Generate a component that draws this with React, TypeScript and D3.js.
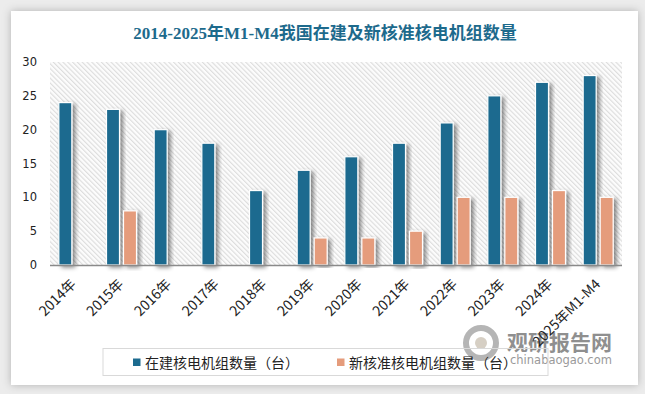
import React from "react";
import { scaleBand, scaleLinear } from "d3";

const categories = [
  "2014年", "2015年", "2016年", "2017年", "2018年", "2019年",
  "2020年", "2021年", "2022年", "2023年", "2024年", "2025年M1-M4",
];
const underConstruction = [24, 23, 20, 18, 11, 14, 16, 18, 21, 25, 27, 28];
const newlyApproved = [0, 8, 0, 0, 0, 4, 4, 5, 10, 10, 11, 10];
const yTicks = [0, 5, 10, 15, 20, 25, 30];
const seriesNames = ["在建核电机组数量（台）", "新核准核电机组数量（台）"];

const W = 645;
const H = 394;
const BLUE = "#1c6b8f";
const ORANGE = "#e59c7c";

const App = () => {
  // plot area
  const left = 50, right = 622, top = 62, bottom = 265;

  const x = scaleBand<string>().domain(categories).range([left, right]).padding(0);
  const bw = x.bandwidth();
  const inner = scaleBand<string>()
    .domain(["a", "b"])
    .range([bw / 2 - 15, bw / 2 + 15])
    .paddingInner(4 / 17)
    .paddingOuter(0);
  const y = scaleLinear().domain([0, 30]).range([bottom, top]);

  const cjk = "'Noto Sans CJK SC', 'DejaVu Sans', sans-serif";

  return (
    <div style={{ position: "fixed", left: 0, top: 0 }}>
      <svg width={W} height={H} style={{ display: "block" }}>
        <defs>
          <pattern id="hatch" width="3.4" height="3.4" patternUnits="userSpaceOnUse" patternTransform="rotate(-45)">
            <rect width="3.4" height="3.4" fill="#fcfcfc" />
            <line x1="0.6" y1="0" x2="0.6" y2="3.4" stroke="#d9d9d9" strokeWidth="1" />
          </pattern>
          <filter id="cardShadow" x="-5%" y="-5%" width="110%" height="110%">
            <feDropShadow dx="0" dy="0" stdDeviation="4" floodColor="#000" floodOpacity="0.25" />
          </filter>
          <filter id="barShadow" x="-50%" y="-10%" width="200%" height="120%">
            <feDropShadow dx="3" dy="2" stdDeviation="2" floodColor="#000" floodOpacity="0.45" />
          </filter>
        </defs>

        <rect width={W} height={H} fill="#ececec" />
        <rect x={11} y={11} width={627} height={374} fill="#ffffff" filter="url(#cardShadow)" />

        <text
          x={325}
          y={39}
          textAnchor="middle"
          fontFamily="'Liberation Serif', 'Noto Sans CJK SC', serif"
          fontWeight="bold"
          fontSize={17}
          fill="#1d6a8c"
        >
          2014-2025年M1-M4我国在建及新核准核电机组数量
        </text>

        <rect x={left} y={top} width={right - left} height={bottom - top} fill="url(#hatch)" />

        {yTicks.map((t) => (
          <text
            key={t}
            x={37}
            y={y(t) + 4}
            textAnchor="end"
            fontFamily="'DejaVu Sans', sans-serif"
            fontSize={11.5}
            fill="#222"
          >
            {t}
          </text>
        ))}

        {categories.map((c, i) => {
          const x0 = x(c) as number;
          const ha = underConstruction[i];
          const hb = newlyApproved[i];
          return (
            <g key={c}>
              <rect
                x={x0 + (inner("a") as number)}
                y={y(ha)}
                width={inner.bandwidth()}
                height={bottom - y(ha)}
                fill={BLUE}
                stroke="#fff"
                strokeWidth={1.2}
                filter="url(#barShadow)"
              />
              {hb > 0 && (
                <rect
                  x={x0 + (inner("b") as number)}
                  y={y(hb)}
                  width={inner.bandwidth()}
                  height={bottom - y(hb)}
                  fill={ORANGE}
                  stroke="#fff"
                  strokeWidth={1.2}
                  filter="url(#barShadow)"
                />
              )}
            </g>
          );
        })}

        <line x1={left} x2={right} y1={bottom + 0.5} y2={bottom + 0.5} stroke="#8a8a8a" strokeWidth={1.6} />

        {/* watermark */}
        <g>
          <circle cx={481} cy={343} r={15} fill="none" stroke="#b5b5b5" strokeWidth={6} />
          <circle cx={481} cy={343} r={6} fill="#d6cfc4" />
          <text x={507} y={350} fontFamily={cjk} fontWeight="bold" fontSize={21} fill="#8f8f8f">
            观研报告网
          </text>
          <text x={510} y={364} fontFamily="'DejaVu Sans', sans-serif" fontSize={11.5} fill="#9a9a9a">
            chinabaogao.com
          </text>
        </g>

        {categories.map((c) => {
          const cx = (x(c) as number) + bw / 2 + 3;
          const cy = bottom + 20;
          return (
            <text
              key={c}
              transform={`translate(${cx},${cy}) rotate(-45)`}
              textAnchor="end"
              fontFamily={cjk}
              fontSize={14}
              fill="#222"
            >
              {c}
            </text>
          );
        })}

        <rect x={103} y={348.5} width={445} height={27} fill="none" stroke="#d9d9d9" strokeWidth={1} />
        {seriesNames.map((s, i) => {
          const lx = i === 0 ? 133 : 337;
          return (
            <g key={s}>
              <rect x={lx} y={358.5} width={7.5} height={7.5} fill={i === 0 ? BLUE : ORANGE} />
              <text x={lx + 12} y={368} fontFamily={cjk} fontSize={14} fill="#222">
                {s}
              </text>
            </g>
          );
        })}
      </svg>
    </div>
  );
};

export default App;
